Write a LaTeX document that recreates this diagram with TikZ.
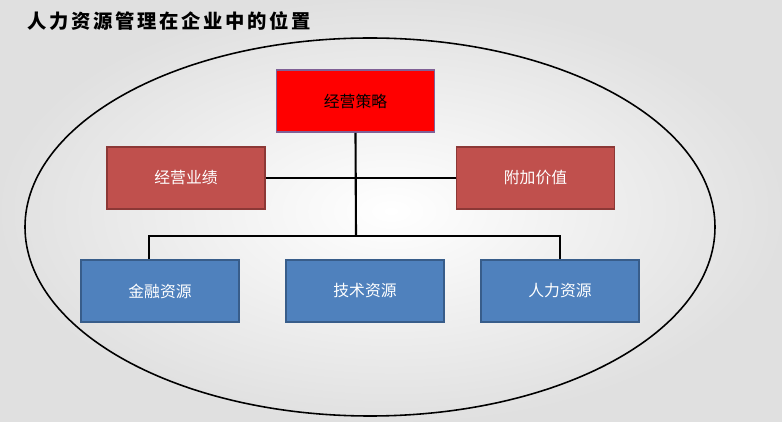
\documentclass[tikz,border=0pt]{standalone}
\usepackage{fontspec}
\newfontfamily\cjk{Noto Sans CJK SC}
\newfontfamily\cjktitle[LetterSpace=14]{Noto Sans CJK SC}
\definecolor{topred}{RGB}{255,0,0}
\definecolor{topedge}{RGB}{128,96,150}
\definecolor{midred}{RGB}{192,80,77}
\definecolor{midedge}{RGB}{140,56,54}
\definecolor{lowblue}{RGB}{79,129,189}
\definecolor{lowedge}{RGB}{56,93,138}
\tikzset{
  box/.style={draw, line width=0.9pt, minimum width=3.16cm, minimum height=1.24cm,
    font=\cjk\fontsize{9}{11}\selectfont, inner sep=0pt},
  topbox/.style={box, fill=topred, draw=topedge, text=black},
  midbox/.style={box, fill=midred, draw=midedge, text=white},
  lowbox/.style={box, fill=lowblue, draw=lowedge, text=white},
  link/.style={line width=1.2pt, black}
}
\begin{document}
\begin{tikzpicture}[x=0.02cm, y=-0.02cm]
% background
\fill[inner color=white, outer color=black!12] (0,0) rectangle (782,422);
\useasboundingbox (0,0) rectangle (782,422);
\node[anchor=west, inner sep=0pt, font=\cjktitle\bfseries\fontsize{11}{12}\selectfont] (title) at (27,21) {人力资源管理在企业中的位置};
% frame
\draw[line width=0.9pt] (370,227) ellipse [x radius=345, y radius=189];
% boxes
\node[topbox] (strategy) at (355.5,101) {经营策略};
\node[midbox] (results) at (186,178) {经营业绩};
\node[midbox] (value) at (535.5,178) {附加价值};
\node[lowbox] (finance) at (160,291) {金融资源};
\node[lowbox] (tech) at (365,291) {技术资源};
\node[lowbox] (human) at (560,291) {人力资源};
\coordinate (hub) at (356,236);
% links
\draw[link] (strategy.south) -- (hub);
\draw[link] (results.east) -- (value.west);
\draw[link] ([xshift=-0.22cm]finance.north) |- (hub) -| (human.north);
\end{tikzpicture}
\end{document}
